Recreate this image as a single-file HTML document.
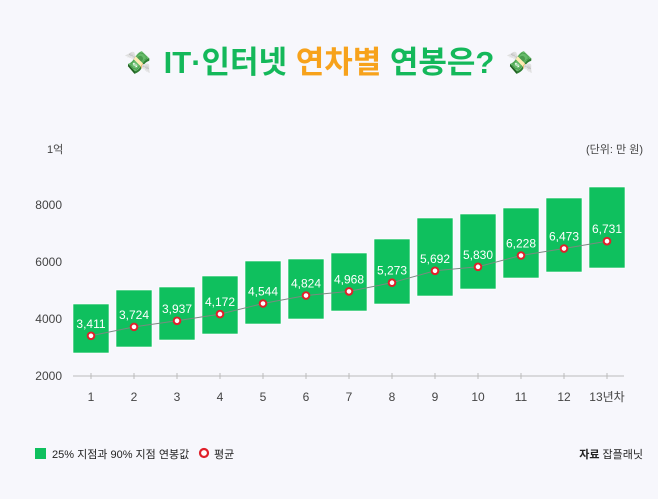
<!DOCTYPE html>
<html><head><meta charset="utf-8"><style>
html,body{margin:0;padding:0;background:#f7f7fc;}
svg{display:block;font-family:"Liberation Sans","Noto Sans CJK KR",sans-serif;}
</style></head><body>
<svg width="658" height="499" viewBox="0 0 658 499">
<rect width="658" height="499" fill="#f7f7fc"/>
<g font-size="31" font-weight="bold" text-anchor="middle">
<text x="329" y="73"><tspan fill="#14b85a">IT·인터넷 </tspan><tspan fill="#f7a21b">연차별</tspan><tspan fill="#14b85a"> 연봉은?</tspan></text>
</g>
<text x="138" y="70" font-size="22" text-anchor="middle">💸</text>
<text x="520" y="70" font-size="22" text-anchor="middle">💸</text>
<g font-size="11" fill="#444">
<text x="47" y="153">1억</text>
<text x="643" y="153" text-anchor="end">(단위: 만 원)</text>
<text x="62" y="209" text-anchor="end" font-size="12">8000</text>
<text x="62" y="266" text-anchor="end" font-size="12">6000</text>
<text x="62" y="323" text-anchor="end" font-size="12">4000</text>
<text x="62" y="380" text-anchor="end" font-size="12">2000</text>
</g>
<line x1="73" y1="376" x2="624" y2="376" stroke="#bbb" stroke-width="1"/>
<g id="bars" fill="#0fc05e" stroke="#ffffff" stroke-width="0.6"></g>
<g id="rest"></g>
<g font-size="11" fill="#222">
<rect x="35" y="448" width="11" height="11" fill="#0fc05e"/>
<text x="52" y="458">25% 지점과 90% 지점 연봉값</text>
<circle cx="204" cy="453" r="4" fill="#fff" stroke="#e0202a" stroke-width="2.2"/>
<text x="214" y="458">평균</text>
<text x="643" y="458" text-anchor="end"><tspan font-weight="bold">자료</tspan> 잡플래닛</text>
</g>
<script>
var tops=[304,290,287,276,261,259,253,239,218,214,208,198,187];
var bots=[353,347,340,334,324,319,311,304,296,289,278,272,268];
var vals=[3411,3724,3937,4172,4544,4824,4968,5273,5692,5830,6228,6473,6731];
var ns="http://www.w3.org/2000/svg",b=document.getElementById('bars'),r=document.getElementById('rest');
function el(t,a,p,txt){var e=document.createElementNS(ns,t);for(var k in a)e.setAttribute(k,a[k]);if(txt)e.textContent=txt;p.appendChild(e);return e;}
var pts=[];
for(var i=0;i<13;i++){var cx=91+i*43;el('rect',{x:cx-18,y:tops[i],width:36,height:bots[i]-tops[i]},b);
pts.push(cx+','+(376-(vals[i]-2000)*0.0285).toFixed(1));}
el('polyline',{points:pts.join(' '),fill:'none',stroke:'#7a8a80','stroke-width':1},r);
for(var i=0;i<13;i++){var cx=91+i*43,cy=376-(vals[i]-2000)*0.0285;
el('line',{x1:cx,y1:373,x2:cx,y2:379,stroke:'#bbb'},r);
el('circle',{cx:cx,cy:cy,r:3.3,fill:'#fff',stroke:'#e0202a','stroke-width':2},r);
el('text',{x:cx,y:cy-8,'text-anchor':'middle','font-size':12,fill:'#fff'},r,vals[i].toLocaleString('en-US'));
el('text',{x:cx,y:401,'text-anchor':'middle','font-size':12,fill:'#444'},r,i==12?'13년차':String(i+1));}
</script>
</svg>
</body></html>
